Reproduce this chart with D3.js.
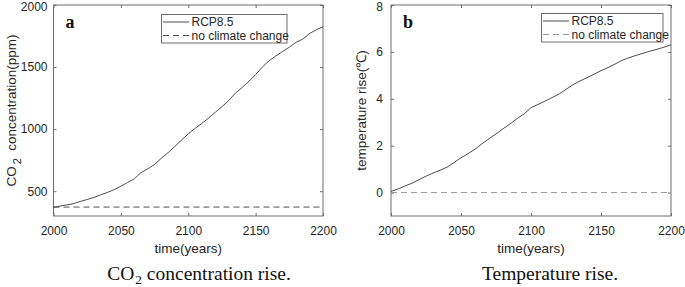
<!DOCTYPE html>
<html>
<head>
<meta charset="utf-8">
<script src="https://cdn.jsdelivr.net/npm/d3@7"></script>
<style>
  html, body { margin: 0; padding: 0; background: #fff; }
  svg { display: block; }
</style>
</head>
<body>
<svg id="chart" width="685" height="287"></svg>
<script>
const years = [2000,2005,2010,2015,2020,2025,2030,2035,2040,2045,2050,2055,2060,2065,2070,2075,2080,2085,2090,2095,2100,2105,2110,2115,2120,2125,2130,2135,2140,2145,2150,2155,2160,2165,2170,2175,2180,2185,2190,2195,2200];
const co2Rcp = [370,380,390,400,418,433,450,470,490,512,540,570,600,650,680,715,765,810,860,912,962,1005,1045,1088,1135,1180,1230,1290,1335,1385,1440,1500,1550,1590,1625,1660,1700,1725,1770,1800,1825];
const co2NoChange = 372;
const tempRcp = [0.05,0.15,0.28,0.40,0.55,0.70,0.83,0.95,1.08,1.28,1.48,1.66,1.85,2.08,2.30,2.50,2.72,2.93,3.15,3.35,3.62,3.76,3.90,4.05,4.20,4.40,4.60,4.76,4.90,5.05,5.20,5.33,5.48,5.64,5.75,5.85,5.94,6.03,6.11,6.20,6.30];
const tempNoChange = 0;
const xTicks = [2000,2050,2100,2150,2200];
const co2Ticks = [500,1000,1500,2000];
const tempTicks = [0,2,4,6,8];
const legendLabels = ["RCP8.5","no climate change"];

const svg = d3.select("#chart");
const FONT = "Liberation Sans, Arial, sans-serif";
const SERIF = "Liberation Serif, Times New Roman, serif";
const axisColor = "#6e6e6e";
const textColor = "#262626";

function panel(opt) {
  const x = d3.scaleLinear().domain([2000,2200]).range([opt.x0, opt.x1]);
  const y = d3.scaleLinear().domain(opt.ydom).range([opt.y1, opt.y0]);
  const g = svg.append("g");

  g.append("rect").attr("x", opt.x0).attr("y", opt.y0)
    .attr("width", opt.x1 - opt.x0).attr("height", opt.y1 - opt.y0)
    .attr("fill", "none").attr("stroke", axisColor).attr("stroke-width", 1);

  const bottom = g.append("g").attr("transform", `translate(0,${opt.y1})`)
    .call(d3.axisBottom(x).tickValues(xTicks).tickFormat(d3.format("d")).tickSizeInner(-3).tickSizeOuter(0).tickPadding(10));
  const top = g.append("g").attr("transform", `translate(0,${opt.y0})`)
    .call(d3.axisTop(x).tickValues(xTicks).tickFormat("").tickSizeInner(-3).tickSizeOuter(0));
  const left = g.append("g").attr("transform", `translate(${opt.x0},0)`)
    .call(d3.axisLeft(y).tickValues(opt.yticks).tickFormat(d3.format("d")).tickSizeInner(-3).tickSizeOuter(0).tickPadding(opt.ypad));
  const right = g.append("g").attr("transform", `translate(${opt.x1},0)`)
    .call(d3.axisRight(y).tickValues(opt.yticks).tickFormat("").tickSizeInner(-3).tickSizeOuter(0));
  [bottom, top, left, right].forEach(a => {
    a.select(".domain").remove();
    a.selectAll(".tick line").attr("stroke", axisColor);
    a.selectAll("text").attr("font-family", FONT).attr("font-size", 12).attr("fill", textColor);
  });
  left.selectAll(".tick text").filter(d => d === opt.ydom[1]).attr("dy", "0.45em");

  const line = d3.line().x((d, i) => x(years[i])).y(d => y(d));
  g.append("path").datum(years.map(() => opt.base))
    .attr("d", line).attr("fill", "none").attr("stroke", opt.dashColor)
    .attr("stroke-width", 1).attr("stroke-dasharray", "6,4");
  g.append("path").datum(opt.series)
    .attr("d", line).attr("fill", "none").attr("stroke", "#3a3a3a").attr("stroke-width", 0.9);

  g.append("text").attr("x", opt.x0 + 12).attr("y", opt.y0 + 23)
    .attr("font-family", SERIF).attr("font-weight", "bold").attr("font-size", 18)
    .attr("fill", "#111").text(opt.letter);

  const lg = g.append("g");
  lg.append("rect").attr("x", opt.lx0).attr("y", opt.ly0)
    .attr("width", opt.lx1 - opt.lx0).attr("height", opt.ly1 - opt.ly0)
    .attr("fill", "#fff").attr("stroke", axisColor).attr("stroke-width", 1);
  const rows = [opt.ly0 + 7.5, opt.ly0 + 21];
  lg.append("line").attr("x1", opt.lx0 + 1.5).attr("x2", opt.lx0 + 27.5)
    .attr("y1", rows[0]).attr("y2", rows[0]).attr("stroke", "#3a3a3a").attr("stroke-width", 0.9);
  lg.append("line").attr("x1", opt.lx0 + 1.5).attr("x2", opt.lx0 + 27.5)
    .attr("y1", rows[1]).attr("y2", rows[1]).attr("stroke", opt.dashColor)
    .attr("stroke-width", 1).attr("stroke-dasharray", "6,4");
  legendLabels.forEach((t, i) => {
    lg.append("text").attr("x", opt.lx0 + 30).attr("y", rows[i] + 4.3)
      .attr("font-family", FONT).attr("font-size", 12).attr("fill", textColor).text(t);
  });

  g.append("text").attr("x", (opt.x0 + opt.x1) / 2).attr("y", opt.y1 + 37)
    .attr("text-anchor", "middle").attr("font-family", FONT).attr("font-size", 13.5)
    .attr("fill", textColor).text("time(years)");

  return {x, y, g};
}

panel({x0: 53.5, x1: 323, y0: 5, y1: 216, ydom: [300, 2000], yticks: co2Ticks,
  ypad: 6, series: co2Rcp, base: co2NoChange, dashColor: "#505050", letter: "a",
  lx0: 161.5, lx1: 287, ly0: 14.5, ly1: 43});
panel({x0: 391, x1: 671, y0: 5, y1: 216, ydom: [-1, 8], yticks: tempTicks,
  ypad: 8, series: tempRcp, base: tempNoChange, dashColor: "#9a9a9a", letter: "b",
  lx0: 541.5, lx1: 663, ly0: 13.5, ly1: 42});

const yt1 = svg.append("text").attr("transform", "translate(16,110.5) rotate(-90)")
  .attr("text-anchor", "middle").attr("font-family", FONT).attr("font-size", 13.5)
  .attr("fill", textColor).attr("xml:space", "preserve");
yt1.append("tspan").text("CO");
yt1.append("tspan").attr("dy", 5).attr("dx", 2).attr("font-size", 11).text("2");
yt1.append("tspan").attr("dy", -5).text("  concentration(ppm)");

svg.append("text").attr("transform", "translate(366,110.5) rotate(-90)")
  .attr("text-anchor", "middle").attr("font-family", FONT).attr("font-size", 13.5)
  .attr("fill", textColor).text("temperature rise(℃)");

const c1 = svg.append("text").attr("x", 199).attr("y", 280).attr("text-anchor", "middle")
  .attr("font-family", SERIF).attr("font-size", 19.5).attr("fill", "#111");
c1.append("tspan").text("CO");
c1.append("tspan").attr("dy", 4).attr("dx", 1).attr("font-size", 13.5).text("2");
c1.append("tspan").attr("dy", -4).text(" concentration rise.");

svg.append("text").attr("x", 550).attr("y", 280).attr("text-anchor", "middle")
  .attr("font-family", SERIF).attr("font-size", 19.5).attr("fill", "#111").text("Temperature rise.");
</script>
</body>
</html>
